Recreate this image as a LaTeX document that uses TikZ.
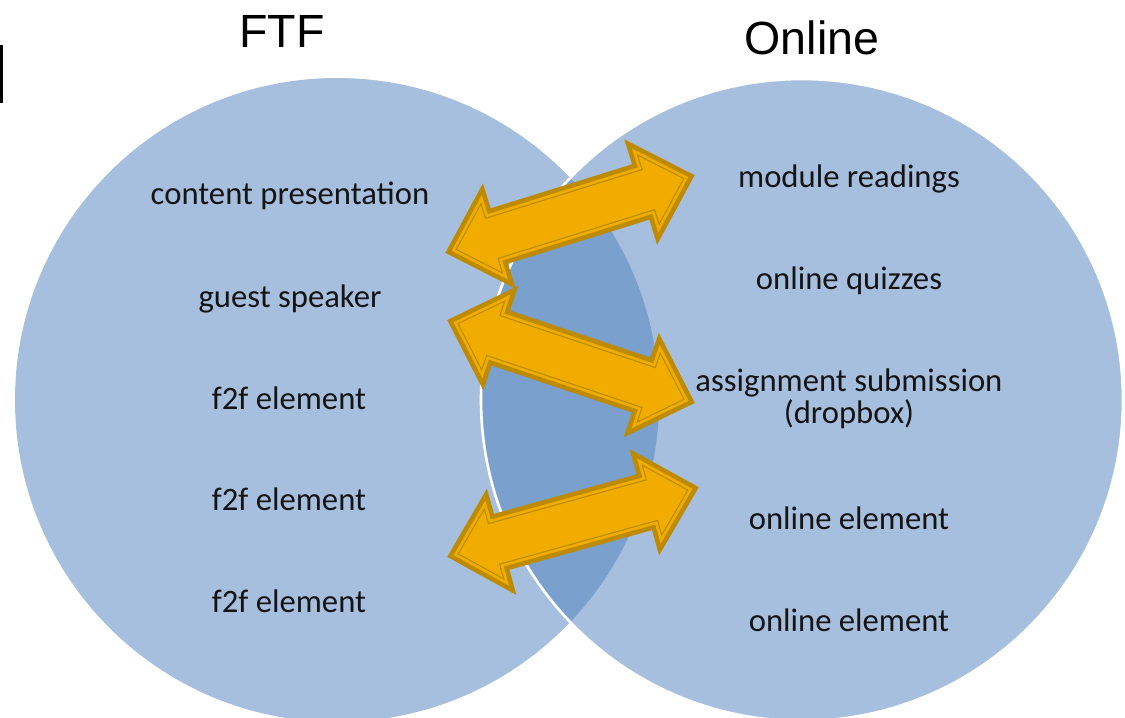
\documentclass[tikz,border=0pt]{standalone}
\usepackage{fontspec}
\setmainfont{Carlito}
\newfontfamily\headfont{Liberation Sans}

\definecolor{circfill}{RGB}{167,191,222}
\definecolor{lensfill}{RGB}{122,160,205}
\definecolor{arrowfill}{RGB}{240,173,0}
\definecolor{arrowline}{RGB}{190,138,0}
\definecolor{itemtext}{RGB}{20,20,20}

\tikzset{
  item/.style={anchor=base, text=itemtext, inner sep=0pt, align=center,
    font=\fontsize{18.6}{18.2}\selectfont},
  heading/.style={anchor=center, inner sep=0pt, font=\headfont\fontsize{26.5}{30}\selectfont},
  swapshape/.style={insert path={(-122,0) -- (-80,41) -- (-80,23) -- (80,23) -- (80,41)
    -- (122,0) -- (80,-41) -- (80,-23) -- (-80,-23) -- (-80,-41) -- cycle}},
  swapedge/.style={draw=arrowline, line width=6.8pt, line join=miter},
  swapbody/.style={fill=arrowfill, draw=arrowline, line width=0.68pt,
    double=arrowfill, double distance=1.5pt, line join=miter}
}

% swap arrow: center, angle
\newcommand\swaparrow[2]{%
  \begin{scope}[shift={#1}, rotate=#2]
    \path[swapedge, swapshape];
    \path[swapbody, swapshape];
  \end{scope}}

\begin{document}
\begin{tikzpicture}[x=0.02cm, y=-0.02cm]
  \useasboundingbox (0,0) rectangle (1125,717);

  % the two sets
  \coordinate (ftfc) at (337,400);
  \coordinate (onc) at (802,400);
  \fill[circfill] (ftfc) circle (322);
  \fill[circfill] (onc) circle (321);
  \begin{scope}
    \clip (ftfc) circle (322);
    \fill[lensfill] (onc) circle (321);
  \end{scope}
  \draw[white, line width=1.5pt] (onc) circle (321);

  % headings
  \node[heading] (ftf) at (282,31) {FTF};
  \node[heading] (online) at (812,38) {Online};
  \draw[line width=1.7pt] (1.5,45) -- (1.5,103);

  % face to face items
  \node[item] (content) at (290,204) {content presentation};
  \node[item] (guest) at (290,307) {guest speaker};
  \foreach \y/\n in {409/fa, 510/fb, 612/fc}
    \node[item] (\n) at (289,\y) {f2f element};

  % online items
  \node[item] (readings) at (849,187) {module readings};
  \node[item] (quizzes) at (849,289) {online quizzes};
  \node[item, anchor=center] (dropbox) at (849,399) {assignment submission\\(dropbox)};
  \foreach \y/\n in {529/oa, 631/ob}
    \node[item] (\n) at (849,\y) {online element};

  % arrows between the sets
  \swaparrow{(570,214)}{17.3}
  \swaparrow{(571,361.5)}{-18.5}
  \swaparrow{(573,522)}{15.5}
\end{tikzpicture}
\end{document}
